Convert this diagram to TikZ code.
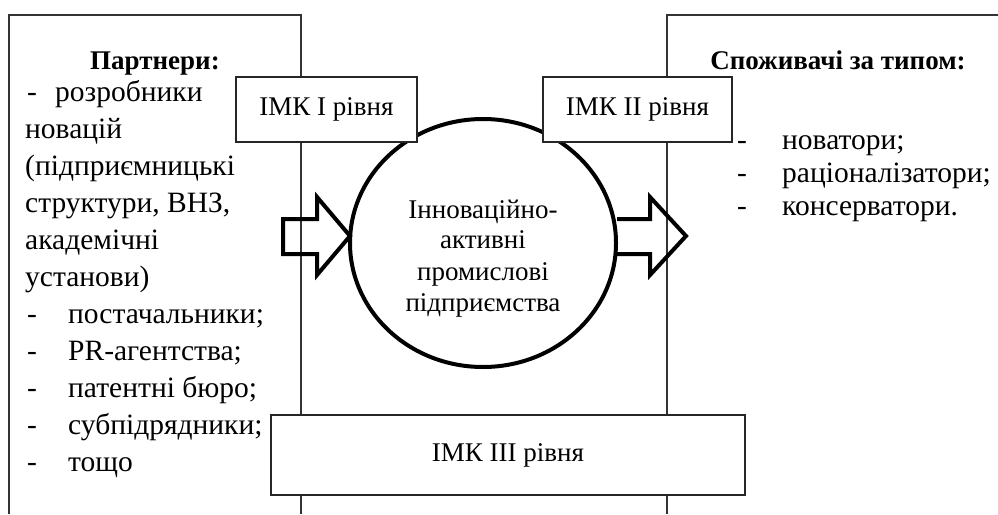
\documentclass[tikz,border=0pt]{standalone}
\usepackage{fontspec}
\setmainfont{Liberation Serif}
\usetikzlibrary{shapes.geometric}
\begin{document}
\begin{tikzpicture}[x=1pt,y=-1pt,
  frame/.style={line width=1.1pt, draw=black!80},
  imkbox/.style={draw=black!85, line width=1.2pt, fill=white, inner sep=0pt, font=\fontsize{27}{31}\selectfont},
  fat/.style={line width=4pt, draw=black, line join=miter},
  txt/.style={inner sep=0pt, anchor=base west, font=\fontsize{29.5}{33}\selectfont},
  ctxt/.style={inner sep=0pt, anchor=base, font=\fontsize{27}{31}\selectfont},
  head/.style={inner sep=0pt, anchor=base, font=\fontsize{27}{31}\selectfont\bfseries}]
\useasboundingbox (0,0) rectangle (998,514);
% frames
\coordinate (la) at (9,514); \coordinate (lb) at (9,15);
\coordinate (lc) at (301,15); \coordinate (ld) at (301,514);
\coordinate (ra) at (667,514); \coordinate (rb) at (667,15); \coordinate (rc) at (998,15);
\draw[frame] (la) -- (lb) -- (lc) -- (ld);
\draw[frame] (ra) -- (rb) -- (rc);
% core
\node[fat, ellipse, minimum width=266pt, minimum height=248pt, inner sep=0pt] (core) at (483,243) {};
\node[ctxt] (c1) at (483,218) {Інноваційно-};
\node[ctxt] (c2) at (483,248) {активні};
\node[ctxt] (c3) at (483,280) {промислові};
\node[ctxt] (c4) at (483,311) {підприємства};
% arrows
\draw[fat] (283,219) -- (317,219) -- (317,197) -- (350,236) -- (317,275) -- (317,254) -- (283,254) -- cycle;
\draw[fat] (617,219) -- (650,219) -- (650,197) -- (686,236) -- (650,275) -- (650,254) -- (617,254);
% boxes
\node[imkbox, minimum width=181pt, minimum height=65pt] (imk1) at (326.5,109.5) {ІМК I рівня};
\node[imkbox, minimum width=189pt, minimum height=65pt] (imk2) at (637.5,109.5) {ІМК II рівня};
\node[imkbox, minimum width=474pt, minimum height=80pt] (imk3) at (508,455) {ІМК III рівня};
% left text
\node[head] (ph) at (155,69) {Партнери:};
\node[txt] (pd1) at (27,101) {-};
\node[txt] (p1) at (55,101) {розробники};
\node[txt] (p2) at (25,138) {новацій};
\node[txt] (p3) at (25,175) {(підприємницькі};
\node[txt] (p4) at (25,212) {структури, ВНЗ,};
\node[txt] (p5) at (25,249) {академічні};
\node[txt] (p6) at (25,286) {установи)};
\node[txt] (pd7) at (27,323) {-};
\node[txt] (p7) at (68,323) {постачальники;};
\node[txt] (pd8) at (27,360) {-};
\node[txt] (p8) at (68,360) {PR-агентства;};
\node[txt] (pd9) at (27,397) {-};
\node[txt] (p9) at (68,397) {патентні бюро;};
\node[txt] (pd10) at (27,434) {-};
\node[txt] (p10) at (68,434) {субпідрядники;};
\node[txt] (pd11) at (27,471) {-};
\node[txt] (p11) at (68,471) {тощо};
% right text
\node[head] (sh) at (838,69) {Споживачі за типом:};
\node[txt] (sd1) at (737,149) {-};
\node[txt] (s1) at (782,149) {новатори;};
\node[txt] (sd2) at (737,182) {-};
\node[txt] (s2) at (782,182) {раціоналізатори;};
\node[txt] (sd3) at (737,215) {-};
\node[txt] (s3) at (782,215) {консерватори.};
\end{tikzpicture}
\end{document}
